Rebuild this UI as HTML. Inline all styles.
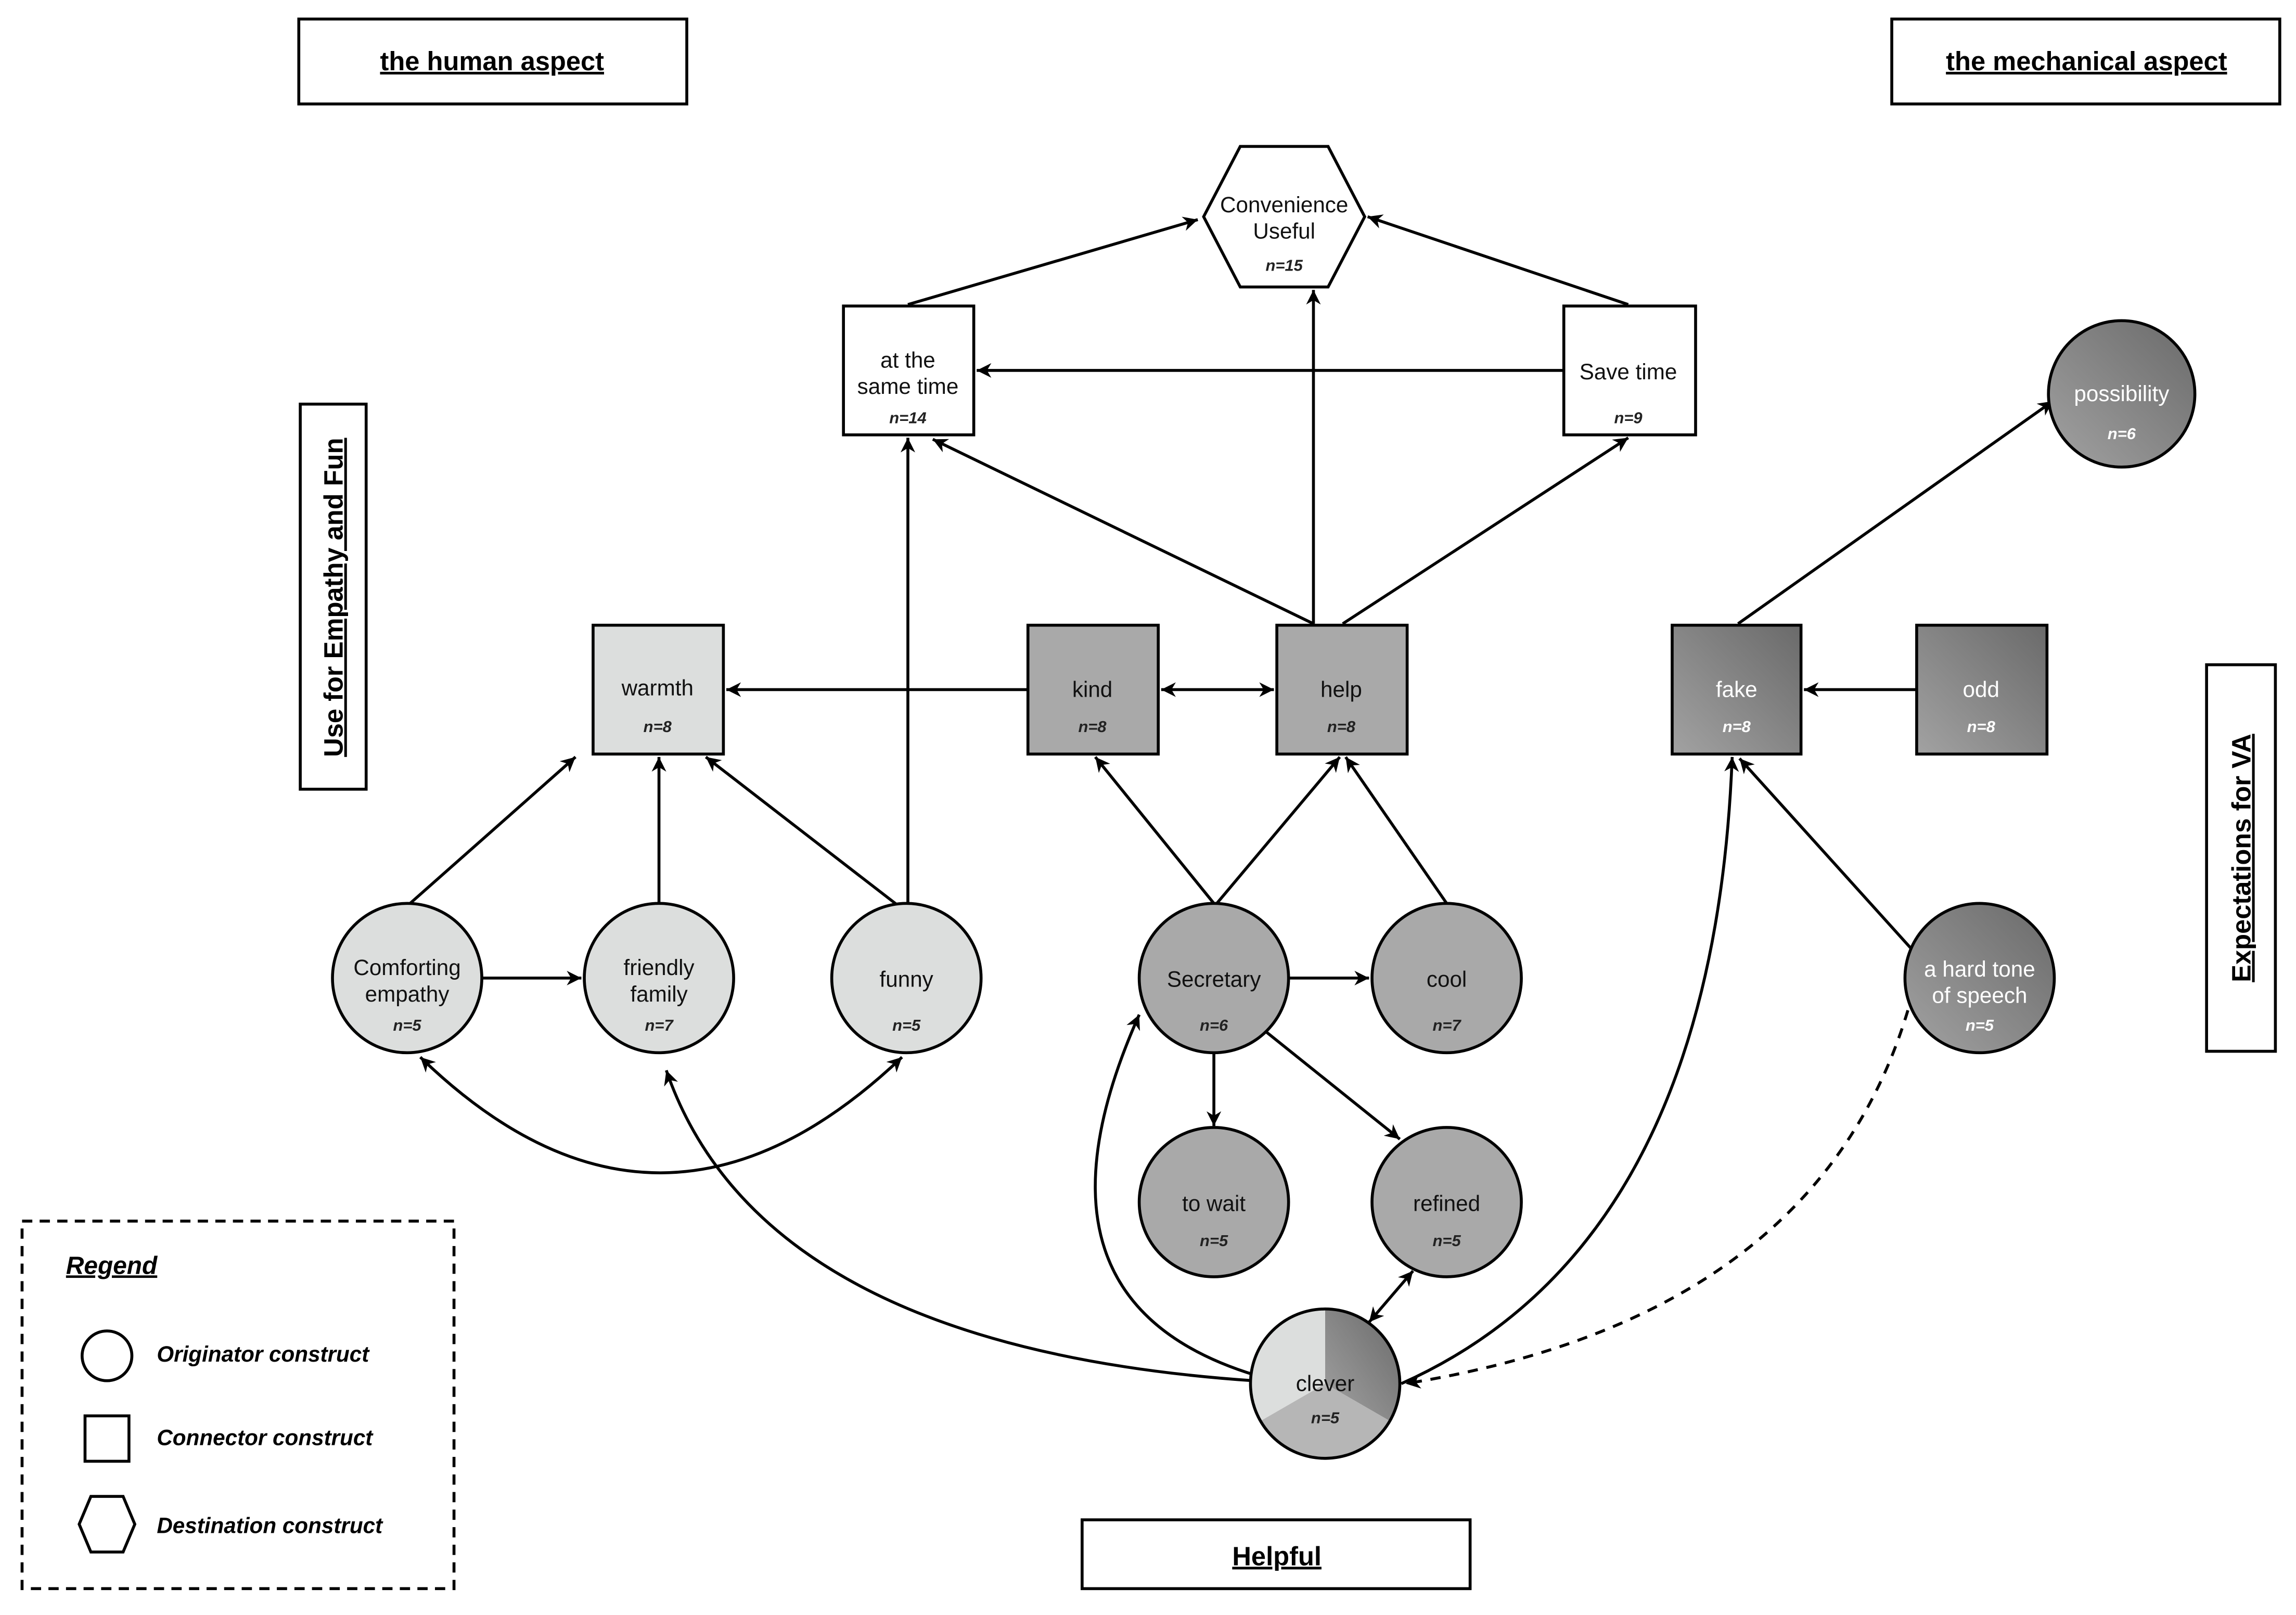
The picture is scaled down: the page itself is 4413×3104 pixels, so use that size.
<!DOCTYPE html>
<html><head><meta charset="utf-8"><style>
html,body{margin:0;padding:0;background:#fff;}
svg{display:block;}
text{font-family:"Liberation Sans",sans-serif;}
</style></head><body>
<svg width="4413" height="3104" viewBox="0 0 1568 1103" xmlns="http://www.w3.org/2000/svg">
<defs>
<marker id="a" viewBox="0 0 10 10" refX="10" refY="5" markerWidth="10" markerHeight="10" markerUnits="userSpaceOnUse" orient="auto-start-reverse"><path d="M0,0 L10,5 L0,10 L3,5 z" fill="#000"/></marker>
<linearGradient id="dk" x1="0" y1="1" x2="1" y2="0"><stop offset="0" stop-color="#a2a2a2"/><stop offset="1" stop-color="#6a6a6a"/></linearGradient>
</defs>
<rect width="1568" height="1103" fill="#fff"/>
<g fill="none" stroke="#000" stroke-width="2">
<rect x="204" y="13" width="265" height="58"/>
<rect x="1292" y="13" width="265" height="58"/>
<rect x="205" y="276" width="45" height="263"/>
<rect x="1507" y="454" width="47" height="264"/>
<rect x="739" y="1038" width="265" height="47"/>
<rect x="15" y="834" width="295" height="251" stroke-dasharray="7,5"/>
</g>
<g font-weight="bold" font-size="18" text-anchor="middle" text-decoration="underline">
<text x="336" y="48">the human aspect</text>
<text x="1425" y="48">the mechanical aspect</text>
<text x="872" y="1069">Helpful</text>
<text transform="translate(234,408) rotate(-90)">Use for Empathy and Fun</text>
<text transform="translate(1537,586) rotate(-90)">Expectations for VA</text>
</g>
<g font-style="italic" font-weight="bold" font-size="15">
<text x="45" y="870" font-size="17" text-decoration="underline">Regend</text>
<circle cx="73" cy="926" r="17" fill="none" stroke="#000" stroke-width="2"/>
<text x="107" y="930">Originator construct</text>
<rect x="58" y="967" width="30" height="31" fill="none" stroke="#000" stroke-width="2"/>
<text x="107" y="987">Connector construct</text>
<polygon points="62,1022 84,1022 92,1041 84,1060 62,1060 54,1041" fill="none" stroke="#000" stroke-width="2"/>
<text x="107" y="1047">Destination construct</text>
</g>
<g fill="none" stroke="#000" stroke-width="2" marker-end="url(#a)">
<line x1="620" y1="208" x2="818" y2="150"/>
<line x1="1112" y1="208" x2="934" y2="148"/>
<line x1="1068" y1="253" x2="667" y2="253"/>
<line x1="897" y1="426" x2="897" y2="198"/>
<line x1="917" y1="426" x2="1112" y2="299"/>
<line x1="897" y1="426" x2="637" y2="300"/>
<line x1="1187" y1="426" x2="1402" y2="274"/>
<line x1="1309" y1="471" x2="1232" y2="471"/>
<line x1="793" y1="471" x2="870" y2="471" marker-start="url(#a)"/>
<line x1="702" y1="471" x2="496" y2="471"/>
<line x1="280" y1="617" x2="393" y2="517"/>
<line x1="450" y1="617" x2="450" y2="517"/>
<line x1="614" y1="619" x2="482" y2="517"/>
<line x1="620" y1="617" x2="620" y2="299"/>
<line x1="829" y1="617" x2="748" y2="517"/>
<line x1="831" y1="617" x2="915" y2="517"/>
<line x1="988" y1="617" x2="919" y2="517"/>
<line x1="880" y1="668" x2="935" y2="668"/>
<line x1="829" y1="719" x2="829" y2="769"/>
<line x1="865" y1="705" x2="956" y2="778"/>
<line x1="329" y1="668" x2="397" y2="668"/>
<line x1="1309" y1="652" x2="1188" y2="518"/>
<path d="M287,722 Q450,880 616,722" marker-start="url(#a)"/>
<path d="M856,943 Q520,920 455,731"/>
<path d="M860,940 Q690,890 778,693"/>
<line x1="935" y1="903" x2="965" y2="868" marker-start="url(#a)"/>
<path d="M957,945 Q1170,850 1183,517"/>
<path d="M1303,690 Q1240,900 960,945" stroke-dasharray="7,6"/>
</g>
<g stroke="#000" stroke-width="2">
<polygon points="847,100 907,100 932,148 907,196 847,196 822,148" fill="#fff"/>
<rect x="576" y="209" width="89" height="88" fill="#fff"/>
<rect x="1068" y="209" width="90" height="88" fill="#fff"/>
<circle cx="1449" cy="269" r="50" fill="url(#dk)"/>
<rect x="405" y="427" width="89" height="88" fill="#dcdedd"/>
<rect x="702" y="427" width="89" height="88" fill="#a9a9a9"/>
<rect x="872" y="427" width="89" height="88" fill="#a9a9a9"/>
<rect x="1142" y="427" width="88" height="88" fill="url(#dk)"/>
<rect x="1309" y="427" width="89" height="88" fill="url(#dk)"/>
<circle cx="278" cy="668" r="51" fill="#dcdedd"/>
<circle cx="450" cy="668" r="51" fill="#dcdedd"/>
<circle cx="619" cy="668" r="51" fill="#dcdedd"/>
<circle cx="829" cy="668" r="51" fill="#a9a9a9"/>
<circle cx="988" cy="668" r="51" fill="#a9a9a9"/>
<circle cx="829" cy="821" r="51" fill="#a9a9a9"/>
<circle cx="988" cy="821" r="51" fill="#a9a9a9"/>
<circle cx="1352" cy="668" r="51" fill="url(#dk)"/>
</g>
<g stroke="none">
<path d="M905,945 L905,894 A51,51 0 0 1 949.2,970.5 Z" fill="url(#dk)"/>
<path d="M905,945 L949.2,970.5 A51,51 0 0 1 860.8,970.5 Z" fill="#b6b6b6"/>
<path d="M905,945 L860.8,970.5 A51,51 0 0 1 905,894 Z" fill="#dcdedd"/>
</g>
<circle cx="905" cy="945" r="51" fill="none" stroke="#000" stroke-width="2"/>
<g font-size="15" text-anchor="middle" fill="#111">
<text x="877" y="145">Convenience</text><text x="877" y="163">Useful</text>
<text x="620" y="251">at the</text><text x="620" y="269">same time</text>
<text x="1112" y="259">Save time</text>
<text x="449" y="475">warmth</text>
<text x="746" y="476">kind</text>
<text x="916" y="476">help</text>
<text x="278" y="666">Comforting</text><text x="278" y="684">empathy</text>
<text x="450" y="666">friendly</text><text x="450" y="684">family</text>
<text x="619" y="674">funny</text>
<text x="829" y="674">Secretary</text>
<text x="988" y="674">cool</text>
<text x="829" y="827">to wait</text>
<text x="988" y="827">refined</text>
<text x="905" y="950">clever</text>
</g>
<g font-size="15" text-anchor="middle" fill="#fff">
<text x="1449" y="274">possibility</text>
<text x="1186" y="476">fake</text>
<text x="1353" y="476">odd</text>
<text x="1352" y="667">a hard tone</text><text x="1352" y="685">of speech</text>
</g>
<g font-size="11" font-style="italic" font-weight="bold" text-anchor="middle" fill="#222">
<text x="877" y="185" font-family="Liberation Serif">n=15</text>
<text x="620" y="289" font-family="Liberation Serif">n=14</text>
<text x="1112" y="289" font-family="Liberation Serif">n=9</text>
<text x="449" y="500" font-family="Liberation Serif">n=8</text>
<text x="746" y="500" font-family="Liberation Serif">n=8</text>
<text x="916" y="500" font-family="Liberation Serif">n=8</text>
<text x="278" y="704" font-family="Liberation Serif">n=5</text>
<text x="450" y="704" font-family="Liberation Serif">n=7</text>
<text x="619" y="704" font-family="Liberation Serif">n=5</text>
<text x="829" y="704" font-family="Liberation Serif">n=6</text>
<text x="988" y="704" font-family="Liberation Serif">n=7</text>
<text x="829" y="851" font-family="Liberation Serif">n=5</text>
<text x="988" y="851" font-family="Liberation Serif">n=5</text>
<text x="905" y="972" font-family="Liberation Serif">n=5</text>
</g>
<g font-size="11" font-style="italic" font-weight="bold" text-anchor="middle" fill="#fff">
<text x="1449" y="300" font-family="Liberation Serif">n=6</text>
<text x="1186" y="500" font-family="Liberation Serif">n=8</text>
<text x="1353" y="500" font-family="Liberation Serif">n=8</text>
<text x="1352" y="704" font-family="Liberation Serif">n=5</text>
</g>
</svg>
</body></html>
